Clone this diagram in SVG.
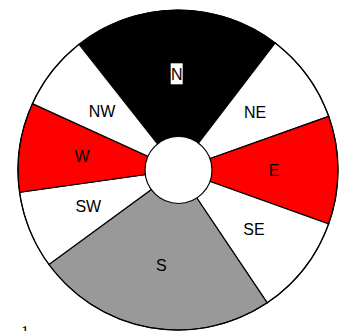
<svg xmlns="http://www.w3.org/2000/svg" width="341" height="331" viewBox="0 0 341 331">
<style>
.sec{stroke:#000;stroke-width:1.2;stroke-linejoin:miter}
.w{fill:#fff}.r{fill:#f00}.k{fill:#000}.g{fill:#999}
.lbl{font-family:"Liberation Sans",Arial,sans-serif;font-size:16px;fill:#000;text-anchor:middle}
</style>
<rect width="341" height="331" fill="#fff"/>
<g id="sector-N"><path class="sec k" d="M178,170 L79.06,44.26 A160,160 0 0,1 275.18,42.90 Z"/><rect x="170.7" y="63.3" width="12" height="21" fill="#fff"/><text class="lbl" x="176.7" y="80">N</text></g>
<g id="sector-NE"><path class="sec w" d="M178,170 L275.18,42.90 A160,160 0 0,1 328.74,116.32 Z"/><text class="lbl" x="255" y="118.3">NE</text></g>
<g id="sector-E"><path class="sec r" d="M178,170 L328.74,116.32 A160,160 0 0,1 328.64,223.94 Z"/><text class="lbl" x="274" y="176">E</text></g>
<g id="sector-SE"><path class="sec w" d="M178,170 L328.64,223.94 A160,160 0 0,1 267.23,302.80 Z"/><text class="lbl" x="254" y="235">SE</text></g>
<g id="sector-S"><path class="sec g" d="M178,170 L267.23,302.80 A160,160 0 0,1 48.88,264.50 Z"/><text class="lbl" x="161.3" y="270.7">S</text></g>
<g id="sector-SW"><path class="sec w" d="M178,170 L48.88,264.50 A160,160 0 0,1 19.55,192.27 Z"/><text class="lbl" x="88.3" y="212.3">SW</text></g>
<g id="sector-W"><path class="sec r" d="M178,170 L19.55,192.27 A160,160 0 0,1 32.40,103.65 Z"/><text class="lbl" x="82" y="162.3">W</text></g>
<g id="sector-NW"><path class="sec w" d="M178,170 L32.40,103.65 A160,160 0 0,1 79.06,44.26 Z"/><text class="lbl" x="102" y="117.3">NW</text></g>
<g id="hub"><circle cx="178.5" cy="170" r="33.5" fill="#fff" stroke="#000" stroke-width="1.2"/></g>
<g id="rim"><circle cx="178" cy="170" r="160" fill="none" stroke="#000" stroke-width="1.2"/></g>
<text x="21" y="337" style="font-family:'Liberation Serif','Times New Roman',serif;font-size:16px">1</text>
</svg>
